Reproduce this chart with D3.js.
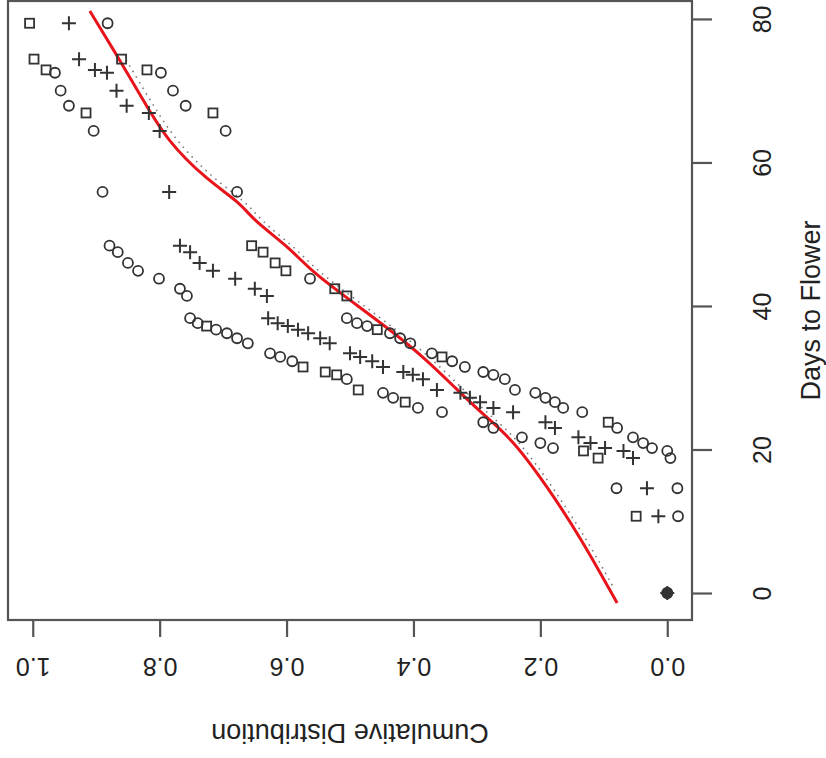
<!DOCTYPE html>
<html>
<head>
<meta charset="utf-8">
<script src="https://cdn.jsdelivr.net/npm/d3@7"></script>
<style>
  body { margin: 0; background: #fff; }
  text { font-family: "Liberation Sans", Arial, sans-serif; fill: #222; }
</style>
</head>
<body>
<div id="chart"></div>
<script>
var w = 826;
var h = 758;

// plot box (the R plot is turned on its side)
var boxLeft = 8, boxRight = 692, boxTop = 1, boxBottom = 620;

// one row per step of the empirical distribution
var days = [79.4, 74.4, 72.9, 72.5, 70.0, 67.9, 66.9, 64.4, 55.9, 48.4,
            47.5, 46.0, 44.9, 43.8, 42.4, 41.4, 38.3, 37.6, 37.2, 36.7,
            36.2, 35.5, 34.8, 33.4, 32.9, 32.3, 31.5, 30.8, 30.4, 29.8,
            28.3, 27.9, 27.2, 26.6, 25.8, 25.2, 23.8, 23.0, 21.7, 20.9,
            20.2, 19.8, 18.8, 14.6, 10.7, 0];
var ecdf = [0.943, 0.927, 0.902, 0.883, 0.868, 0.852, 0.817, 0.800, 0.785, 0.768,
            0.752, 0.737, 0.716, 0.681, 0.650, 0.631, 0.629, 0.614, 0.598, 0.582,
            0.566, 0.547, 0.532, 0.500, 0.484, 0.465, 0.448, 0.416, 0.401, 0.385,
            0.363, 0.326, 0.311, 0.295, 0.274, 0.243, 0.192, 0.177, 0.140, 0.121,
            0.098, 0.069, 0.054, 0.032, 0.014, 0];
var upper = [1.005, 0.998, 0.979, 0.965, 0.956, 0.943, 0.916, 0.904, 0.890, 0.879,
             0.866, 0.850, 0.834, 0.801, 0.768, 0.757, 0.752, 0.740, 0.726, 0.711,
             0.694, 0.678, 0.661, 0.626, 0.610, 0.591, 0.574, 0.539, 0.521, 0.505,
             0.487, 0.448, 0.432, 0.413, 0.393, 0.355, 0.290, 0.274, 0.229, 0.200,
             0.180, 0.132, 0.109, 0.080, 0.049, 0];
var lower = [0.882, 0.860, 0.820, 0.798, 0.779, 0.759, 0.716, 0.696, 0.678, 0.655,
             0.637, 0.618, 0.601, 0.563, 0.524, 0.505, 0.505, 0.489, 0.473, 0.457,
             0.437, 0.421, 0.405, 0.371, 0.355, 0.339, 0.319, 0.290, 0.274, 0.256,
             0.240, 0.208, 0.192, 0.177, 0.164, 0.134, 0.093, 0.079, 0.054, 0.038,
             0.024, 0.000, -0.005, -0.016, -0.017, 0];
// s = square, c = circle
var upperShape = "ssscccsccc" + "ccccccccsc" + "ccccccsssc" + "sccscccccc" + "csscsc";
var lowerShape = "csscccsccs" + "ssscsscccs" + "ccccsccccc" + "ccccccsccc" + "cccccc";

// fitted curve (red) and second fit (dotted)
var fitCum  = [0.910, 0.863, 0.826, 0.789, 0.726, 0.673, 0.653, 0.595, 0.563, 0.500,
               0.437, 0.379, 0.331, 0.284, 0.243, 0.189, 0.137, 0.079];
var fitDays = [81.1, 74.3, 68.7, 63.1, 57.6, 54.4, 52.0, 48.1, 45.0, 40.8,
               36.7, 32.5, 28.3, 24.4, 21.3, 14.8, 7.8, -1.4];
var dotCum  = [0.853, 0.815, 0.776, 0.714, 0.662, 0.642, 0.586, 0.553, 0.490,
               0.427, 0.369, 0.321, 0.275, 0.234, 0.181, 0.129, 0.083];
var dotDays = [74.3, 68.7, 63.1, 57.6, 54.4, 52.0, 48.1, 45.0, 40.8,
               36.7, 32.5, 28.3, 24.4, 21.3, 14.8, 7.8, 0.5];

var cumTicks = [0, 0.2, 0.4, 0.6, 0.8, 1.0];
var dayTicks = [0, 20, 40, 60, 80];

var svg = d3.select("#chart")
            .append("svg")
            .attr("width", w)
            .attr("height", h);

svg.append("rect").attr("width", w).attr("height", h).attr("fill", "white");

// cumulative runs right-to-left, days bottom-to-top
var xScale = d3.scaleLinear()
        .domain([1.039, -0.039])
        .range([boxLeft, boxRight]);

var yScale = d3.scaleLinear()
        .domain([-3.76, 82.5])
        .range([boxBottom, boxTop]);

var ink = "#333";

// dotted second fit, then the red curve
var fitLine = d3.line()
    .x(function (d) { return xScale(d[0]); })
    .y(function (d) { return yScale(d[1]); })
    .curve(d3.curveBasis);

svg.append("path")
    .attr("d", fitLine(d3.zip(dotCum, dotDays)))
    .attr("fill", "none")
    .attr("stroke", "#777")
    .attr("stroke-width", 1.6)
    .attr("stroke-dasharray", "1.5,5");

svg.append("path")
    .attr("d", fitLine(d3.zip(fitCum, fitDays)))
    .attr("fill", "none")
    .attr("stroke", "#e8141b")
    .attr("stroke-width", 3);

// points
var rows = days.map(function (d, i) {
    return { day: d, p: ecdf[i], hi: upper[i], lo: lower[i],
             hiS: upperShape[i], loS: lowerShape[i] };
});

function drawShape(g, cx, cy, shape, filled) {
    if (shape === "s") {
        g.append("rect")
            .attr("x", cx - 4.5).attr("y", cy - 4.5)
            .attr("width", 9).attr("height", 9)
            .attr("fill", filled ? ink : "none").attr("stroke", ink).attr("stroke-width", 1.8);
    } else {
        g.append("circle")
            .attr("cx", cx).attr("cy", cy).attr("r", 5)
            .attr("fill", filled ? ink : "none").attr("stroke", ink).attr("stroke-width", 1.8);
    }
}

var pts = svg.append("g");
rows.forEach(function (r) {
    var cy = yScale(r.day);
    // where all three marks coincide they print as one solid blob
    var same = (r.hi === r.lo);
    drawShape(pts, xScale(r.hi), cy, r.hiS, same);
    drawShape(pts, xScale(r.lo), cy, r.loS, same);
    pts.append("path")
        .attr("d", "M" + (xScale(r.p) - 7) + "," + cy + "H" + (xScale(r.p) + 7) +
                   "M" + xScale(r.p) + "," + (cy - 7) + "V" + (cy + 7))
        .attr("stroke", ink).attr("stroke-width", 2);
});

// box
svg.append("rect")
    .attr("x", boxLeft).attr("y", boxTop)
    .attr("width", boxRight - boxLeft).attr("height", boxBottom - boxTop)
    .attr("fill", "none")
    .attr("stroke", "#555")
    .attr("stroke-width", 2.2);

// bottom axis, labels upside down
var xAxis = svg.append("g")
    .attr("transform", "translate(0," + boxBottom + ")")
    .call(d3.axisBottom(xScale).tickValues(cumTicks).tickSize(17).tickFormat(d3.format(".1f")));
xAxis.select(".domain").remove();
xAxis.selectAll("line").attr("stroke", "#555").attr("stroke-width", 2.2);
xAxis.selectAll("text")
    .attr("y", 0).attr("dy", "0.35em")
    .attr("transform", "translate(0,47) rotate(180)")
    .attr("text-anchor", "middle")
    .style("font-size", "25px")
    .attr("fill", "#222");

// right axis, labels read bottom-to-top
var yAxis = svg.append("g")
    .attr("transform", "translate(" + boxRight + ",0)")
    .call(d3.axisRight(yScale).tickValues(dayTicks).tickSize(20));
yAxis.select(".domain").remove();
yAxis.selectAll("line").attr("stroke", "#555").attr("stroke-width", 2.2);
yAxis.selectAll("text")
    .attr("x", 0).attr("dy", "0.35em")
    .attr("transform", "translate(70,0) rotate(-90)")
    .attr("text-anchor", "middle")
    .style("font-size", "25px")
    .attr("fill", "#222");

// axis titles
svg.append("text")
    .attr("transform", "translate(" + ((boxLeft + boxRight) / 2) + ",733) rotate(180)")
    .attr("text-anchor", "middle")
    .attr("dy", "0.35em")
    .style("font-size", "27px")
    .text("Cumulative Distribution");

svg.append("text")
    .attr("transform", "translate(811," + ((boxTop + boxBottom) / 2) + ") rotate(-90)")
    .attr("text-anchor", "middle")
    .attr("dy", "0.35em")
    .style("font-size", "27px")
    .text("Days to Flower");
</script>
</body>
</html>
